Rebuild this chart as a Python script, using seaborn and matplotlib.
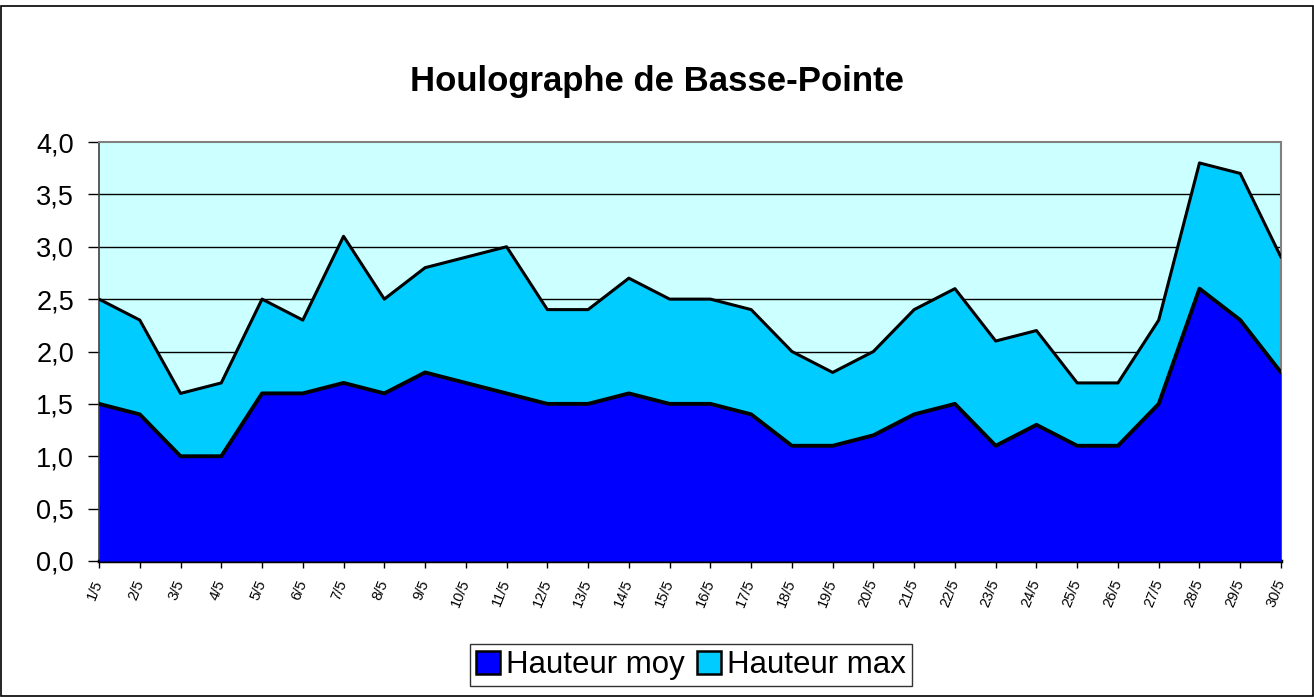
import numpy as np
import pandas as pd
import matplotlib
matplotlib.use('Agg')
import matplotlib.pyplot as plt
import matplotlib.patches as mpatches
import seaborn as sns

days = ['%d/5' % d for d in range(1, 31)]
hauteur_moy = [1.5, 1.4, 1.0, 1.0, 1.6, 1.6, 1.7, 1.6, 1.8, 1.7,
               1.6, 1.5, 1.5, 1.6, 1.5, 1.5, 1.4, 1.1, 1.1, 1.2,
               1.4, 1.5, 1.1, 1.3, 1.1, 1.1, 1.5, 2.6, 2.3, 1.8]
hauteur_max = [2.5, 2.3, 1.6, 1.7, 2.5, 2.3, 3.1, 2.5, 2.8, 2.9,
               3.0, 2.4, 2.4, 2.7, 2.5, 2.5, 2.4, 2.0, 1.8, 2.0,
               2.4, 2.6, 2.1, 2.2, 1.7, 1.7, 2.3, 3.8, 3.7, 2.9]
y_ticks = [0.0, 0.5, 1.0, 1.5, 2.0, 2.5, 3.0, 3.5, 4.0]


def main():
    sns.set_style('white')
    plt.rcParams['font.family'] = ['Liberation Sans', 'DejaVu Sans']
    plt.rcParams['text.color'] = 'black'
    plt.rcParams['xtick.color'] = 'black'
    plt.rcParams['ytick.color'] = 'black'

    df = pd.DataFrame({'x': np.arange(len(days)), 'moy': hauteur_moy, 'max': hauteur_max})

    fig = plt.figure(figsize=(13.14, 6.97), dpi=100)
    ax = fig.add_axes([99 / 1314, 1 - 561 / 697, (1281 - 99) / 1314, (561 - 142) / 697])
    ax.set_facecolor('#CCFFFF')

    for y in y_ticks[1:-1]:
        ax.axhline(y, color='black', lw=1, zorder=1)

    ax.fill_between(df['x'], 0, df['max'], color='#00CCFF', zorder=2, lw=0)
    ax.fill_between(df['x'], 0, df['moy'], color='#0000FF', zorder=3, lw=0)
    sns.lineplot(data=df, x='x', y='max', color='black', lw=2.2, ax=ax, zorder=4)
    sns.lineplot(data=df, x='x', y='moy', color='black', lw=2.8, ax=ax, zorder=5)

    ax.set_xlim(0, len(days) - 1)
    ax.set_ylim(0, 4.0)
    ax.set_xticks(df['x'])
    ax.set_xticklabels(days, rotation=68, ha='right', va='center',
                       rotation_mode='anchor', fontsize=10.5)
    ax.set_yticks(y_ticks)
    ax.set_yticklabels([('%.1f' % v).replace('.', ',') for v in y_ticks], fontsize=19.5)
    ax.tick_params(axis='x', length=5, width=1, direction='out', pad=9, bottom=True)
    ax.tick_params(axis='y', length=8, width=1, direction='out', pad=10, left=True)
    ax.set_xlabel('')
    ax.set_ylabel('')

    for side in ['top', 'right']:
        ax.spines[side].set_color('#808080')
        ax.spines[side].set_linewidth(1.5)
    ax.spines['left'].set_color('#404040')
    ax.spines['left'].set_linewidth(1.2)
    ax.spines['bottom'].set_color('black')
    ax.spines['bottom'].set_linewidth(2.5)

    fig.text(0.5, 1 - 82 / 697, 'Houlographe de Basse-Pointe', ha='center', va='center',
             fontsize=25, fontweight='bold')

    handles = [mpatches.Patch(facecolor='#0000FF', edgecolor='black', lw=1.8),
               mpatches.Patch(facecolor='#00CCFF', edgecolor='black', lw=1.8)]
    leg = fig.legend(handles, ['Hauteur moy', 'Hauteur max'], loc='center',
                     bbox_to_anchor=(691 / 1314, 1 - 665 / 697), ncol=2, fontsize=22.5,
                     frameon=True, fancybox=False, edgecolor='black',
                     handlelength=0.75, handleheight=0.75, handletextpad=0.2,
                     columnspacing=0.4, borderpad=0.2)
    leg.get_frame().set_linewidth(1)

    fig.patches.append(mpatches.Rectangle((0.001, 0.001), 0.998, 0.991,
                                          transform=fig.transFigure, fill=False,
                                          edgecolor='black', lw=1.2))

    fig.savefig('out.png', dpi=100)


if __name__ == "__main__":
    main()
